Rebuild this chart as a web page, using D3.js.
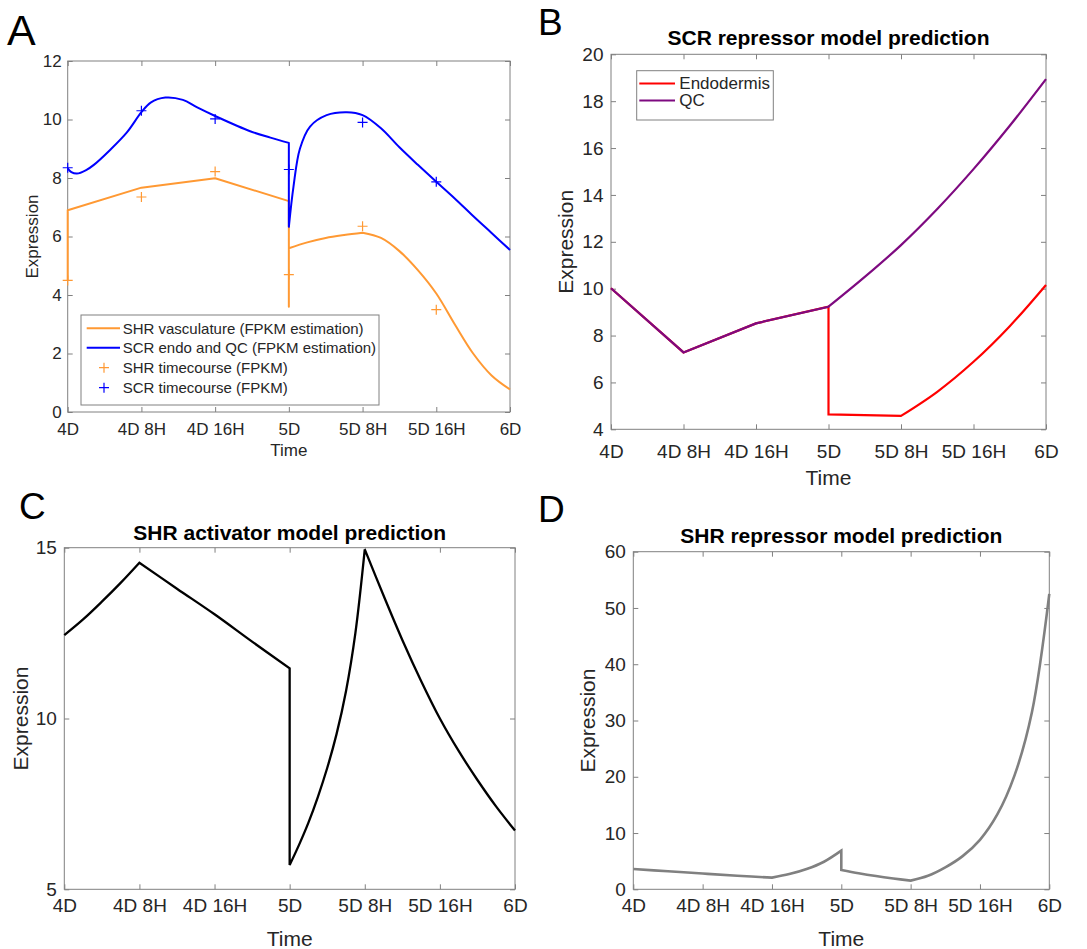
<!DOCTYPE html>
<html><head><meta charset="utf-8">
<script src="https://cdn.jsdelivr.net/npm/d3@7"></script>
<style>body{margin:0;background:#fff} svg{display:block} text{font-family:"Liberation Sans",Arial,sans-serif}</style>
</head><body><svg id="c" width="1087" height="949"></svg>
<script>
// ---------- shared axis data ----------
const timeTicks = [0, 8, 16, 24, 32, 40, 48];
const timeLabels = ["4D", "4D 8H", "4D 16H", "5D", "5D 8H", "5D 16H", "6D"];

// ---------- Panel A ----------
const aYTicks = [0, 2, 4, 6, 8, 10, 12];
const shrVascSegments = [
  [[0, 4.5], [0, 6.9]],
  [[0, 6.9], [8, 7.67]],
  [[8, 7.67], [16, 7.99]],
  [[16, 7.99], [24, 7.21]],
  [[24, 7.21], [24, 3.6]],
  [[24, 3.6], [24, 5.6]],
  [[24, 5.6], [26, 5.8], [28, 5.95], [30, 6.05], [32, 6.13]],
  [[32, 6.13], [34, 5.95], [36, 5.5], [38, 4.85], [40, 4.05], [42, 3.0], [44, 2.0], [46, 1.25], [48, 0.77]]
];
const scrEndoSegments = [
  [[0, 8.33], [0.4, 8.2], [1, 8.15], [2, 8.27], [2.8, 8.44], [4.6, 8.96], [6.4, 9.55], [8, 10.25], [9, 10.58], [10.6, 10.75], [12.5, 10.67], [14, 10.42], [16, 10.12], [19.8, 9.6], [22, 9.38], [24, 9.2]],
  [[24, 9.2], [24, 6.33]],
  [[24, 6.33], [24.5, 7.7], [25.2, 9.0], [26.3, 9.76], [28.1, 10.15], [30.3, 10.25], [32, 10.15], [34, 9.7], [36, 9.05], [38, 8.45], [40, 7.87], [42, 7.3], [44, 6.7], [46, 6.12], [48, 5.54]]
];
const shrTimecourse = [[0, 4.5], [8, 7.35], [16, 8.22], [24, 4.7], [32, 6.35], [40, 3.5]];
const scrTimecourse = [[0, 8.35], [8, 10.3], [16, 10.02], [24, 8.29], [32, 9.9], [40, 7.87]];
const aLegend = ["SHR vasculature (FPKM estimation)", "SCR endo and QC (FPKM estimation)", "SHR timecourse (FPKM)", "SCR timecourse (FPKM)"];

// ---------- Panel B ----------
const bYTicks = [4, 6, 8, 10, 12, 14, 16, 18, 20];
const qcSegments = [
  [[0, 10.02], [8, 7.28]],
  [[8, 7.28], [16, 8.52]],
  [[16, 8.52], [24, 9.23]],
  [[24, 9.23], [28, 10.5], [32, 11.86], [36, 13.4], [40, 15.1], [44, 16.95], [48, 18.94]]
];
const endodermisSegments = [
  [[0, 10.02], [8, 7.28]],
  [[8, 7.28], [16, 8.52]],
  [[16, 8.52], [24, 9.23]],
  [[24, 9.23], [24, 4.64]],
  [[24, 4.64], [32, 4.57]],
  [[32, 4.57], [36, 5.6], [40, 6.88], [44, 8.4], [48, 10.16]]
];
const bLegend = ["Endodermis", "QC"];

// ---------- Panel C ----------
const cYTicks = [5, 10, 15];
const shrActivatorSegments = [
  [[0, 12.44], [2, 12.9], [4, 13.42], [6, 13.97], [8, 14.56]],
  [[8, 14.56], [12, 13.8], [16, 13.05], [20, 12.25], [24, 11.47]],
  [[24, 11.47], [24, 5.71]],
  [[24, 5.71], [25, 6.3], [26, 6.95], [27, 7.7], [28, 8.55], [29, 9.55], [30, 10.8], [31, 12.5], [32, 14.95]],
  [[32, 14.95], [34, 13.6], [36, 12.3], [38, 11.1], [40, 10.0], [42, 9.05], [44, 8.2], [46, 7.42], [48, 6.72]]
];

// ---------- Panel D ----------
const dYTicks = [0, 10, 20, 30, 40, 50, 60];
const shrRepressorSegments = [
  [[0, 3.6], [4, 3.2], [8, 2.8], [12, 2.42], [16, 2.07]],
  [[16, 2.07], [18, 2.7], [20, 3.6], [22, 4.9], [24, 6.87]],
  [[24, 6.87], [24, 3.43]],
  [[24, 3.43], [26, 2.85], [28, 2.35], [30, 1.92], [32, 1.54]],
  [[32, 1.54], [34, 2.4], [36, 3.9], [38, 5.9], [40, 8.8], [42, 13.3], [44, 20.3], [46, 31.5], [48, 52.5]]
];

// ---------- drawing ----------
const svg = d3.select("#c");
const AXIS = "#808080", TXT = "#262626";

function joinPath(segments, x, y) {
  const line = d3.line().x(d => x(d[0])).y(d => y(d[1])).curve(d3.curveCatmullRom.alpha(0.5));
  return segments.map((s, i) => { const p = line(s); return i === 0 ? p : "L" + p.slice(1); }).join("");
}

function panel(o) {
  const x = d3.scaleLinear().domain([0, 48]).range([o.left, o.right]);
  const y = d3.scaleLinear().domain(o.yDomain).range([o.bottom, o.top]);
  const g = svg.append("g");
  const tl = 5;
  const bAx = d3.axisBottom(x).tickValues(timeTicks).tickFormat((d, i) => timeLabels[i]).tickSizeInner(-tl).tickSizeOuter(0).tickPadding(0);
  const gb = g.append("g").attr("transform", `translate(0,${o.bottom})`).call(bAx);
  gb.select(".domain").remove();
  gb.selectAll(".tick line").attr("stroke", AXIS);
  gb.selectAll(".tick text").attr("y", o.xTickBaseline - o.bottom).attr("dy", null)
    .attr("font-size", o.tickFont).attr("fill", TXT).attr("font-family", null);
  const tAx = d3.axisTop(x).tickValues(timeTicks).tickFormat("").tickSizeInner(-tl).tickSizeOuter(0);
  const gt = g.append("g").attr("transform", `translate(0,${o.top})`).call(tAx);
  gt.select(".domain").remove(); gt.selectAll(".tick line").attr("stroke", AXIS);
  const lAx = d3.axisLeft(y).tickValues(o.yTicks).tickSizeInner(-tl).tickSizeOuter(0).tickPadding(o.yGap);
  const gl = g.append("g").attr("transform", `translate(${o.left},0)`).call(lAx);
  gl.select(".domain").remove();
  gl.selectAll(".tick line").attr("stroke", AXIS);
  gl.selectAll(".tick text").attr("font-size", o.tickFont).attr("fill", TXT).attr("x", -o.yGap).attr("font-family", null);
  const rAx = d3.axisRight(y).tickValues(o.yTicks).tickFormat("").tickSizeInner(-tl).tickSizeOuter(0);
  const gr = g.append("g").attr("transform", `translate(${o.right},0)`).call(rAx);
  gr.select(".domain").remove(); gr.selectAll(".tick line").attr("stroke", AXIS);
  g.append("rect").attr("x", o.left).attr("y", o.top).attr("width", o.right - o.left).attr("height", o.bottom - o.top)
    .attr("fill", "none").attr("stroke", AXIS).attr("stroke-width", 1);
  g.append("text").attr("x", (o.left + o.right) / 2).attr("y", o.xLabelBaseline).attr("text-anchor", "middle")
    .attr("font-size", o.labelFont).attr("fill", TXT).text("Time");
  g.append("text").attr("transform", `translate(${o.yLabelX},${(o.top + o.bottom) / 2}) rotate(-90)`)
    .attr("text-anchor", "middle").attr("dy", "0.35em").attr("font-size", o.labelFont).attr("fill", TXT).text("Expression");
  if (o.title) {
    g.append("text").attr("x", (o.left + o.right) / 2).attr("y", o.titleBaseline).attr("text-anchor", "middle")
      .attr("font-size", o.titleFont).attr("font-weight", "bold").attr("fill", "#000").text(o.title);
  }
  g.append("text").attr("x", o.tagX).attr("y", o.tagY).attr("font-size", o.tagFont).attr("fill", "#000").text(o.tag);
  return { x, y, g };
}

function plus(g, cx, cy, color) {
  g.append("path").attr("d", `M${cx - 5},${cy}H${cx + 5}M${cx},${cy - 5}V${cy + 5}`)
    .attr("stroke", color).attr("stroke-width", 1.2).attr("fill", "none");
}

// Panel A
{
  const P = panel({ left: 67.7, right: 510, top: 61, bottom: 412, yDomain: [0, 12], yTicks: aYTicks,
    tickFont: 17, labelFont: 17, yGap: 6, xTickBaseline: 435, xLabelBaseline: 456, yLabelX: 32.5,
    tag: "A", tagX: 7, tagY: 45, tagFont: 43 });
  const orange = "#ff9933", blue = "#0000ff";
  P.g.append("path").attr("d", joinPath(shrVascSegments, P.x, P.y)).attr("fill", "none").attr("stroke", orange).attr("stroke-width", 2).attr("stroke-linejoin", "round");
  P.g.append("path").attr("d", joinPath(scrEndoSegments, P.x, P.y)).attr("fill", "none").attr("stroke", blue).attr("stroke-width", 2).attr("stroke-linejoin", "round");
  shrTimecourse.forEach(d => plus(P.g, P.x(d[0]), P.y(d[1]), orange));
  scrTimecourse.forEach(d => plus(P.g, P.x(d[0]), P.y(d[1]), blue));
  const lg = P.g.append("g");
  lg.append("rect").attr("x", 81).attr("y", 315).attr("width", 298).attr("height", 90).attr("fill", "#fff").attr("stroke", AXIS);
  const ly = [328.3, 347.7, 367.7, 387.7];
  const cols = [orange, blue, orange, blue];
  aLegend.forEach((t, i) => {
    if (i < 2) lg.append("line").attr("x1", 86.7).attr("x2", 120).attr("y1", ly[i]).attr("y2", ly[i]).attr("stroke", cols[i]).attr("stroke-width", 2);
    else plus(lg, 104, ly[i], cols[i]);
    lg.append("text").attr("x", 122.7).attr("y", ly[i]).attr("dy", "0.35em").attr("font-size", 15).attr("fill", TXT).text(t);
  });
}

// Panel B
{
  const P = panel({ left: 611, right: 1046, top: 54.3, bottom: 429.3, yDomain: [4, 20], yTicks: bYTicks,
    tickFont: 19, labelFont: 21, yGap: 7.5, xTickBaseline: 458, xLabelBaseline: 484.5, yLabelX: 566,
    title: "SCR repressor model prediction", titleBaseline: 45, titleFont: 21,
    tag: "B", tagX: 538, tagY: 35, tagFont: 37 });
  const red = "#ff0000", purple = "#7e0a80";
  P.g.append("path").attr("d", joinPath(endodermisSegments, P.x, P.y)).attr("fill", "none").attr("stroke", red).attr("stroke-width", 2.2);
  P.g.append("path").attr("d", joinPath(qcSegments, P.x, P.y)).attr("fill", "none").attr("stroke", purple).attr("stroke-width", 2.2);
  const lg = P.g.append("g");
  lg.append("rect").attr("x", 636.7).attr("y", 70.7).attr("width", 136.6).attr("height", 49.3).attr("fill", "#fff").attr("stroke", AXIS);
  const ly = [83.5, 100.5], cols = [red, purple];
  bLegend.forEach((t, i) => {
    lg.append("line").attr("x1", 639.3).attr("x2", 675).attr("y1", ly[i]).attr("y2", ly[i]).attr("stroke", cols[i]).attr("stroke-width", 2.2);
    lg.append("text").attr("x", 679.3).attr("y", ly[i]).attr("dy", "0.35em").attr("font-size", 17).attr("fill", TXT).text(t);
  });
}

// Panel C
{
  const P = panel({ left: 64.3, right: 515, top: 547.7, bottom: 889.3, yDomain: [5, 15], yTicks: cYTicks,
    tickFont: 19, labelFont: 21, yGap: 7.5, xTickBaseline: 912, xLabelBaseline: 946, yLabelX: 21,
    title: "SHR activator model prediction", titleBaseline: 539.5, titleFont: 21,
    tag: "C", tagX: 19, tagY: 519, tagFont: 37 });
  P.g.append("path").attr("d", joinPath(shrActivatorSegments, P.x, P.y)).attr("fill", "none").attr("stroke", "#000").attr("stroke-width", 2.3);
}

// Panel D
{
  const P = panel({ left: 633.3, right: 1049.3, top: 551.7, bottom: 889.3, yDomain: [0, 60], yTicks: dYTicks,
    tickFont: 19, labelFont: 21, yGap: 7.5, xTickBaseline: 912, xLabelBaseline: 946, yLabelX: 588,
    title: "SHR repressor model prediction", titleBaseline: 543, titleFont: 21,
    tag: "D", tagX: 538, tagY: 522, tagFont: 37 });
  P.g.append("path").attr("d", joinPath(shrRepressorSegments, P.x, P.y)).attr("fill", "none").attr("stroke", "#808080").attr("stroke-width", 2.6);
}
</script></body></html>
